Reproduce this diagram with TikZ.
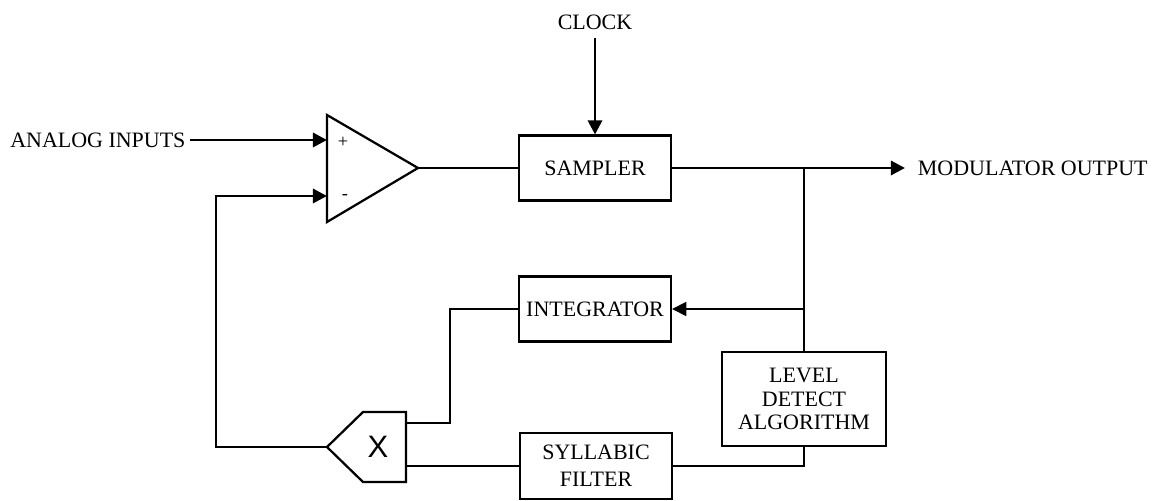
\documentclass[tikz,border=0pt]{standalone}
\usepackage{fontspec}
\setmainfont{Liberation Serif}
\newfontfamily\xfont{Liberation Sans}
\usetikzlibrary{arrows.meta,positioning}

\begin{document}
\begin{tikzpicture}[x=0.71pt,y=-0.71pt,
        blk/.style={draw, line width=1.6pt, minimum width=108pt, minimum height=46pt, align=center, font=\fontsize{15.6}{17}\selectfont},
        txt/.style={font=\fontsize{15.6}{17}\selectfont},
        sig/.style={line width=2.1pt},
        fine/.style={line width=1.1pt},
        tip/.style={-{Triangle[length=10pt,width=10pt]}}]

        \useasboundingbox (0,0) rectangle (1162,501);

        % blocks
        \node[blk] (samp) at (595,168) {SAMPLER};
        \node[blk] (integ) at (595,309) {INTEGRATOR};
        \node[blk, minimum width=116pt, minimum height=67pt, font=\fontsize{15.6}{16.5}\selectfont] (lvl) at (804,399) {LEVEL\\DETECT\\ALGORITHM};
        \node[blk, minimum height=47pt, font=\fontsize{15.6}{19}\selectfont] (syl) at (596,466) {SYLLABIC\\FILTER};

        % labels
        \node[txt, anchor=east, inner sep=3pt] (ain) at (190,140) {ANALOG INPUTS};
        \node[txt, inner sep=6pt] (clk) at (595,22) {CLOCK};
        \node[txt, anchor=west, inner sep=9pt] (mout) at (905,168) {MODULATOR OUTPUT};

        % comparator
        \draw[line width=1.6pt] (327,115) -- (418,168) -- (327,222) -- cycle;
        \coordinate (ip) at (327,140);
        \coordinate (im) at (327,196);
        \coordinate (aout) at (418,168);
        \node[font=\fontsize{13}{13}\selectfont] (pl) at (343,142) {+};
        \node[font=\fontsize{13}{13}\selectfont] (mn) at (345,197) {-};

        % multiplier
        \draw[line width=1.6pt] (327,447) -- (363,412) -- (406,412) -- (406,482) -- (363,482) -- cycle;
        \node[font=\xfont\fontsize{22}{22}\selectfont] (mx) at (378,447) {X};
        \coordinate (mxl) at (327,447);
        \coordinate (mxa) at (406,423);
        \coordinate (mxb) at (406,466);

        \coordinate (jn) at (804,168);
        \coordinate (jb) at (804,309);
        \coordinate (kink) at (450,423);
        \coordinate (lp) at (216,196);

        \draw[sig, tip] (ain) -- (ip);
        \draw[sig, tip] (clk) -- (samp);
        \draw[sig] (aout) -- (samp);
        \draw[sig, tip] (samp) -- (mout);
        \draw[sig] (jn) -- (lvl);
        \draw[fine, tip] (jb) -- (integ);
        \draw[fine] (integ) -| (kink) -- (mxa);
        \draw[sig] (lvl) |- (syl);
        \draw[sig] (syl) -- (mxb);
        \draw[sig, tip] (mxl) -| (lp) -- (im);

\end{tikzpicture}
\end{document}
